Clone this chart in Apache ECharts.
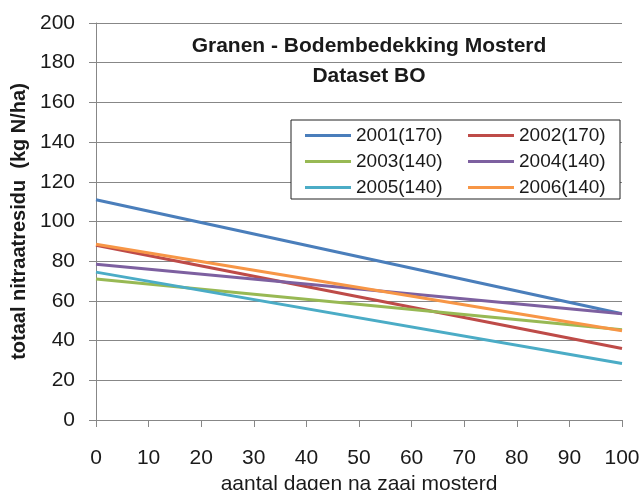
<!DOCTYPE html>
<html>
<head>
<meta charset="utf-8">
<script src="https://cdn.jsdelivr.net/npm/echarts@6/dist/echarts.min.js"></script>
<style>
  html, body { margin: 0; padding: 0; background: #fff; }
  #chart { width: 641px; height: 490px; }
</style>
</head>
<body>
<div id="chart"></div>
<script>
// dagen na zaai mosterd
const days = [0, 100]
const seriesNames = ['2001(170)', '2002(170)', '2003(140)', '2004(140)', '2005(140)', '2006(140)']
const v2001 = [111, 53.5]
const v2002 = [88, 36]
const v2003 = [71, 45.5]
const v2004 = [78.5, 53.5]
const v2005 = [74.5, 28.5]
const v2006 = [88.5, 45]
const yTicks = [0, 20, 40, 60, 80, 100, 120, 140, 160, 180, 200]
const xTicks = [0, 10, 20, 30, 40, 50, 60, 70, 80, 90, 100]

const colors = ['#4a7ebb', '#be4b48', '#98b954', '#7d60a0', '#4bacc6', '#f79646']
const allValues = [v2001, v2002, v2003, v2004, v2005, v2006]
const font = 'Liberation Sans'
const textColor = '#1a1a1a'

const chart = echarts.init(document.getElementById('chart'))

const legendText = {
  fontFamily: font,
  fontSize: 19,
  color: textColor,
  width: 100,
  lineHeight: 16,
}

const option = {
  animation: false,
  backgroundColor: '#fff',
  title: {
    text: 'Granen - Bodembedekking Mosterd\nDataset BO',
    left: 364,
    top: 26,
    textAlign: 'center',
    textStyle: {
      fontFamily: font,
      fontSize: 21,
      fontWeight: 'bold',
      color: textColor,
      lineHeight: 30,
    },
  },
  legend: [
    {
      // linker kolom + kader
      orient: 'vertical',
      left: 291,
      top: 120,
      padding: [6, 164, 2, 14],
      icon: 'rect',
      itemWidth: 46,
      itemHeight: 3,
      itemGap: 7,
      backgroundColor: '#fff',
      borderColor: '#222',
      borderWidth: 1,
      data: [seriesNames[0], seriesNames[2], seriesNames[4]],
      textStyle: legendText,
    },
    {
      orient: 'vertical',
      left: 468,
      top: 120,
      padding: [6, 0, 2, 0],
      icon: 'rect',
      itemWidth: 46,
      itemHeight: 3,
      itemGap: 7,
      data: [seriesNames[1], seriesNames[3], seriesNames[5]],
      textStyle: legendText,
    },
  ],
  grid: {
    left: 96,
    right: 19,
    top: 23,
    bottom: 70,
    outerBoundsMode: 'none',
  },
  xAxis: {
    type: 'value',
    min: xTicks[0],
    max: xTicks[xTicks.length - 1],
    interval: 10,
    name: 'aantal dagen na zaai mosterd',
    nameLocation: 'middle',
    nameGap: 48,
    nameTextStyle: { fontFamily: font, fontSize: 21, color: textColor },
    axisLine: { lineStyle: { color: '#878787', width: 1 } },
    axisTick: { show: true, length: 7, lineStyle: { color: '#878787' } },
    axisLabel: { margin: 28, fontFamily: font, fontSize: 21, color: textColor },
    splitLine: { show: false },
  },
  yAxis: {
    type: 'value',
    min: yTicks[0],
    max: yTicks[yTicks.length - 1],
    interval: 20,
    name: 'totaal nitraatresidu  (kg N/ha)',
    nameLocation: 'middle',
    nameGap: 62,
    nameTextStyle: { fontFamily: font, fontSize: 20, fontWeight: 'bold', color: textColor },
    axisLine: { show: true, lineStyle: { color: '#878787', width: 1 } },
    axisTick: { show: true, length: 7, lineStyle: { color: '#878787' } },
    axisLabel: { margin: 21, padding: [4, 0, 0, 0], fontFamily: font, fontSize: 21, color: textColor },
    splitLine: { show: true, lineStyle: { color: '#878787', width: 1 } },
  },
  series: seriesNames.map((name, i) => ({
    name: name,
    type: 'line',
    data: days.map((d, j) => [d, allValues[i][j]]),
    symbol: 'none',
    itemStyle: { color: colors[i] },
    lineStyle: { color: colors[i], width: 3 },
    z: 2 + i,
  })),
}

chart.setOption(option)
</script>
</body>
</html>
